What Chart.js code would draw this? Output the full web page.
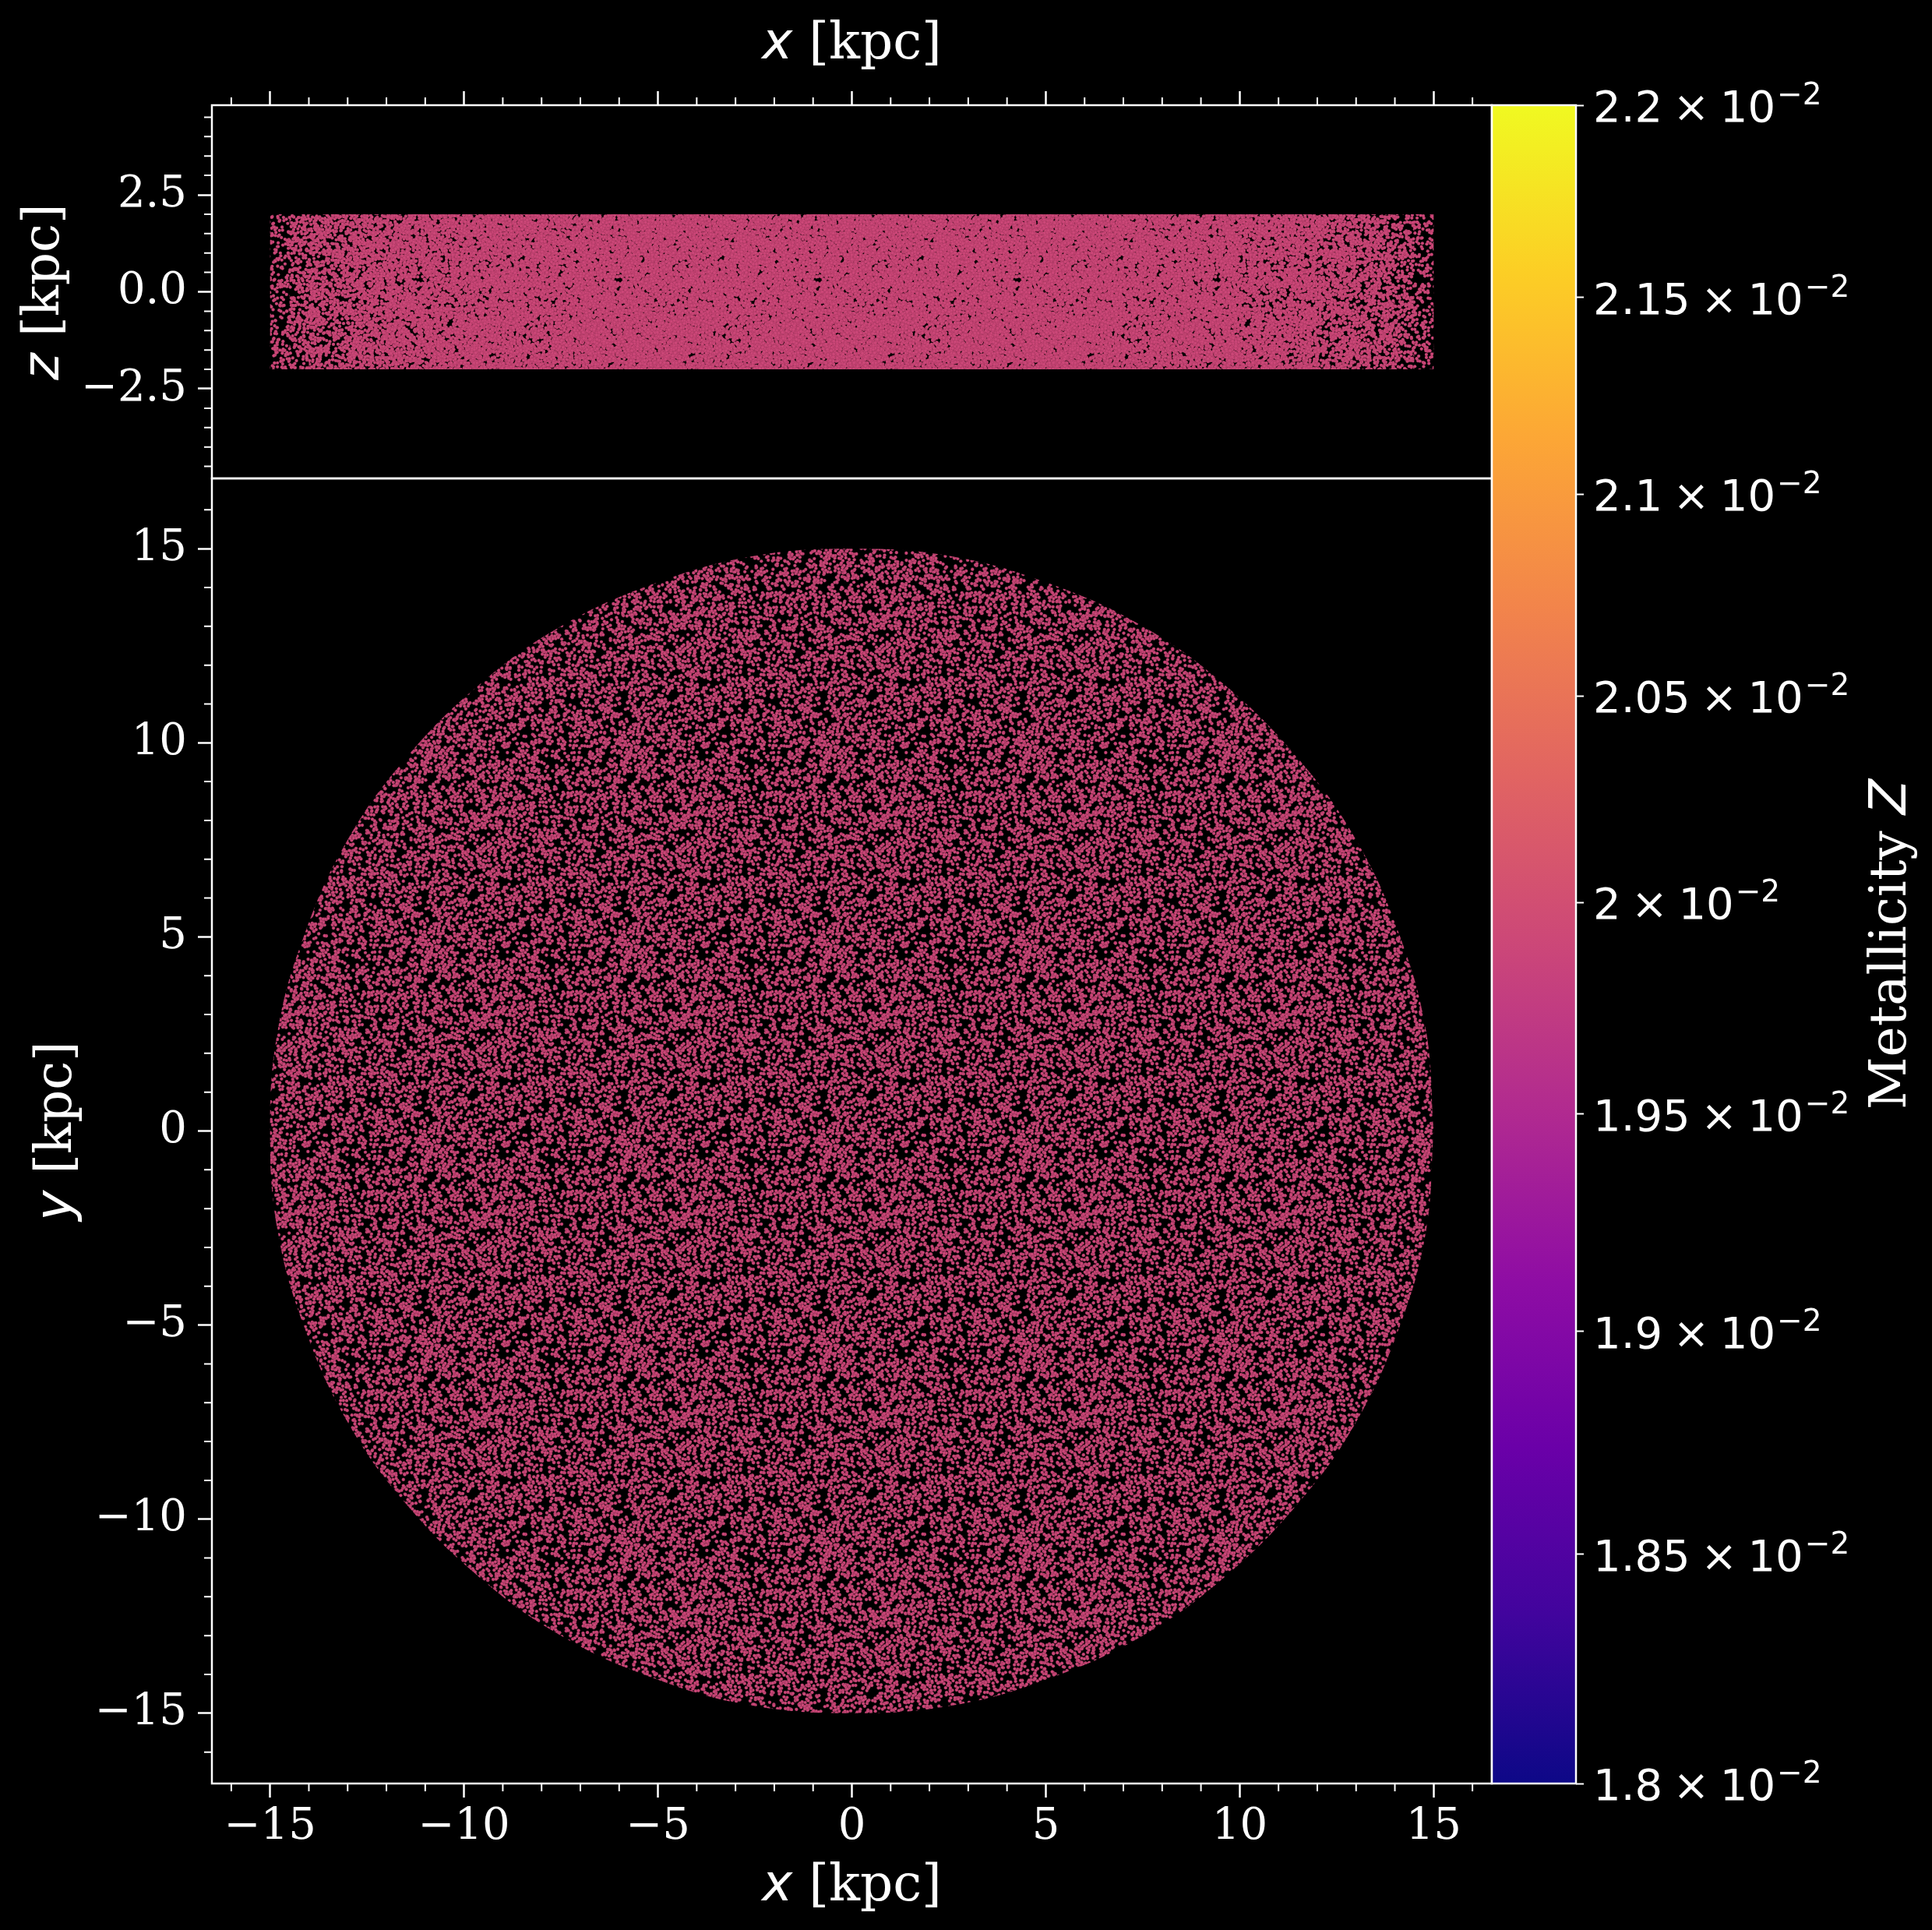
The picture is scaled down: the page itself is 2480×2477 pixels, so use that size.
<!DOCTYPE html>
<html>
<head>
<meta charset="utf-8">
<script src="https://cdn.jsdelivr.net/npm/chart.js@4.4.1/dist/chart.umd.min.js"></script>
<style>
  html, body { margin: 0; padding: 0; background: #000; }
  body { width: 2480px; height: 2477px; position: relative; overflow: hidden; }
  canvas { position: absolute; left: 0; top: 0; }
</style>
</head>
<body>
<canvas id="edgeOn" width="2480" height="2477"></canvas>
<canvas id="faceOn" width="2480" height="2477"></canvas>
<canvas id="colorBar" width="2480" height="2477"></canvas>
<script>
// DATA
const xRange = [-16.5, 16.5];
const yRange = [-16.81, 16.81];
const zRange = [-4.81, 4.81];

const xMajorTicks = [-15, -10, -5, 0, 5, 10, 15];
const xMinorTicks = [-16, -14, -13, -12, -11, -9, -8, -7, -6, -4, -3, -2, -1, 1, 2, 3, 4, 6, 7, 8, 9, 11, 12, 13, 14, 16];
const yMajorTicks = [-15, -10, -5, 0, 5, 10, 15];
const yMinorTicks = [-16, -14, -13, -12, -11, -9, -8, -7, -6, -4, -3, -2, -1, 1, 2, 3, 4, 6, 7, 8, 9, 11, 12, 13, 14, 16];
const zMajorTicks = [-2.5, 0, 2.5];
const zMinorTicks = [-4.5, -4, -3.5, -3, -2, -1.5, -1, -0.5, 0.5, 1, 1.5, 2, 3, 3.5, 4, 4.5];

// outline of the particle disk seen face-on (x, y in kpc)
const diskX = [15, 14.8, 14.1, 13, 11.5, 9.6, 7.5, 5.1, 2.6, 0, -2.6, -5.1, -7.5, -9.6, -11.5, -13, -14.1, -14.8, -15, -14.8, -14.1, -13, -11.5, -9.6, -7.5, -5.1, -2.6, 0, 2.6, 5.1, 7.5, 9.6, 11.5, 13, 14.1, 14.8, 15];
const diskY = [0, 2.6, 5.1, 7.5, 9.6, 11.5, 13, 14.1, 14.8, 15, 14.8, 14.1, 13, 11.5, 9.6, 7.5, 5.1, 2.6, 0, -2.6, -5.1, -7.5, -9.6, -11.5, -13, -14.1, -14.8, -15, -14.8, -14.1, -13, -11.5, -9.6, -7.5, -5.1, -2.6, 0];

// edge-on slab: half widths of the zones of growing column density, and z limits
const slabHalfWidths = [15, 14.5, 14, 13, 12, 10, 7];
const slabZ = [2, -2];

// particle metallicity and the colour bar
const particleMetallicity = [0.0199];
const cbRange = [0.018, 0.022];
const cbTicks = [0.018, 0.0185, 0.019, 0.0195, 0.02, 0.0205, 0.021, 0.0215, 0.022];
const cbMantissas = ['1.8', '1.85', '1.9', '1.95', '2', '2.05', '2.1', '2.15', '2.2'];

// STYLE
const SERIF = '"DejaVu Serif"';
const SANS = '"DejaVu Sans"';
const TICK_SIZE = 56;
const LABEL_SIZE = 66;
const PLASMA = ['#0d0887', '#41049d', '#6a00a8', '#8f0da4', '#b12a90', '#cc4778', '#e16462', '#f2844b', '#fca636', '#fcce25', '#f0f921'];
const slabCoverage = [0.42, 0.35, 0.32, 0.34, 0.32, 0.4, 0.35];
const diskCoverage = 0.5;

function plasmaRgb(f) {
  f = Math.min(1, Math.max(0, f));
  const pos = f * (PLASMA.length - 1);
  const i = Math.min(PLASMA.length - 2, Math.floor(pos));
  const t = pos - i;
  const a = PLASMA[i], b = PLASMA[i + 1];
  const ch = (h, k) => parseInt(h.substr(1 + 2 * k, 2), 16);
  return [0, 1, 2].map(k => Math.round(ch(a, k) + (ch(b, k) - ch(a, k)) * t));
}

const logNorm = v => Math.log(v / cbRange[0]) / Math.log(cbRange[1] / cbRange[0]);
const particleRgb = plasmaRgb(logNorm(particleMetallicity[0]));

// speckled fill that imitates the dense cloud of small markers
function mulberry32(a) {
  return function () {
    a |= 0; a = a + 0x6D2B79F5 | 0;
    let t = Math.imul(a ^ a >>> 15, 1 | a);
    t = t + Math.imul(t ^ t >>> 7, 61 | t) ^ t;
    return ((t ^ t >>> 14) >>> 0) / 4294967296;
  };
}

function speckle(ctx, coverage, seed, rgb, rim) {
  const size = 256, r = 2.1;
  const tile = document.createElement('canvas');
  tile.width = size; tile.height = size;
  const t = tile.getContext('2d');
  const n = Math.round(-Math.log(1 - coverage) * size * size / (Math.PI * r * r));
  const next = mulberry32(seed);
  t.fillStyle = `rgb(${rgb[0]}, ${rgb[1]}, ${rgb[2]})`;
  t.strokeStyle = `rgba(${Math.round(rgb[0] * 0.55)}, ${Math.round(rgb[1] * 0.55)}, ${Math.round(rgb[2] * 0.55)}, ${rim})`;
  t.lineWidth = 0.6;
  for (let i = 0; i < n; i++) {
    const px = next() * size, py = next() * size;
    for (const dx of [-size, 0, size]) {
      for (const dy of [-size, 0, size]) {
        t.beginPath();
        t.arc(px + dx, py + dy, r, 0, Math.PI * 2);
        t.fill();
        if (rim > 0) t.stroke();
      }
    }
  }
  return ctx.createPattern(tile, 'repeat');
}

// HELPERS
const minus = s => String(s).replace('-', '\u2212');

function axis(position, range, major, size, fmt, showLabels, padding) {
  const vertical = position === 'left' || position === 'right';
  return {
    type: 'linear',
    position,
    min: range[0],
    max: range[1],
    afterBuildTicks: s => { s.ticks = major.map(v => ({ value: v })); },
    afterFit: s => { if (vertical) s.width = size; else s.height = size; },
    border: { display: false },
    grid: { drawOnChartArea: false, drawTicks: true, tickLength: 18, tickWidth: 2.5, tickColor: '#fff', color: '#fff' },
    ticks: {
      display: showLabels,
      color: '#fff',
      font: { family: SERIF, size: TICK_SIZE },
      padding,
      autoSkip: false,
      maxRotation: 0,
      minRotation: 0,
      callback: fmt
    }
  };
}

function frame(ctx, a) {
  ctx.save();
  ctx.strokeStyle = '#fff';
  ctx.lineWidth = 2.5;
  ctx.strokeRect(a.left, a.top, a.right - a.left, a.bottom - a.top);
  ctx.restore();
}

function minorTicks(ctx, scale, values, side, a) {
  ctx.save();
  ctx.strokeStyle = '#fff';
  ctx.lineWidth = 2;
  ctx.beginPath();
  values.forEach(v => {
    const p = scale.getPixelForValue(v);
    if (side === 'top') { ctx.moveTo(p, a.top); ctx.lineTo(p, a.top - 10); }
    if (side === 'bottom') { ctx.moveTo(p, a.bottom); ctx.lineTo(p, a.bottom + 10); }
    if (side === 'left') { ctx.moveTo(a.left, p); ctx.lineTo(a.left - 10, p); }
  });
  ctx.stroke();
  ctx.restore();
}

// parts: [text, isMath]; math symbols are sans oblique like mathtext
function mixedText(ctx, parts, x, y, size, rotated) {
  ctx.save();
  ctx.translate(x, y);
  if (rotated) ctx.rotate(-Math.PI / 2);
  ctx.fillStyle = '#fff';
  ctx.textBaseline = 'alphabetic';
  ctx.textAlign = 'left';
  const fonts = parts.map(([, math]) => math ? 'oblique ' + size + 'px ' + SANS : size + 'px ' + SERIF);
  let w = 0;
  parts.forEach(([text], i) => { ctx.font = fonts[i]; w += ctx.measureText(text).width; });
  let cx = -w / 2;
  parts.forEach(([text], i) => {
    ctx.font = fonts[i];
    ctx.fillText(text, cx, 0);
    cx += ctx.measureText(text).width;
  });
  ctx.restore();
}

const baseOptions = {
  responsive: false,
  animation: false,
  events: [],
  plugins: { legend: { display: false }, tooltip: { enabled: false } }
};

// EDGE-ON PANEL (x, z)
const edgeCanvas = document.getElementById('edgeOn');
const edgeCtx = edgeCanvas.getContext('2d');
const slabDatasets = slabHalfWidths.map((w, i) => ({
  data: [
    { x: -w, y: slabZ[0] }, { x: w, y: slabZ[0] },
    { x: w, y: slabZ[1] }, { x: -w, y: slabZ[1] },
    { x: -w, y: slabZ[0] }
  ],
  showLine: true,
  fill: 'shape',
  backgroundColor: speckle(edgeCtx, slabCoverage[i], 11 + i * 97, particleRgb, 0.25),
  borderColor: 'transparent',
  borderWidth: 0,
  pointRadius: 0
}));

new Chart(edgeCanvas, {
  type: 'scatter',
  data: { datasets: slabDatasets },
  options: {
    ...baseOptions,
    layout: { padding: { left: 0, top: 0, right: 565, bottom: 1863 } },
    scales: {
      x: axis('top', xRange, xMajorTicks, 135, v => minus(v), false, 6),
      y: axis('left', zRange, zMajorTicks, 272, v => minus(v.toFixed(1)), true, 14)
    }
  },
  plugins: [{
    id: 'edgeDecor',
    afterDraw(chart) {
      const { ctx, chartArea: a, scales } = chart;
      minorTicks(ctx, scales.x, xMinorTicks, 'top', a);
      minorTicks(ctx, scales.y, zMinorTicks, 'left', a);
      frame(ctx, a);
      mixedText(ctx, [['x', true], [' [kpc]', false]], (a.left + a.right) / 2, 75, LABEL_SIZE, false);
      mixedText(ctx, [['z', true], [' [kpc]', false]], 75, (a.top + a.bottom) / 2, LABEL_SIZE, true);
    }
  }]
});

// FACE-ON PANEL (x, y)
const faceCanvas = document.getElementById('faceOn');
const faceCtx = faceCanvas.getContext('2d');

new Chart(faceCanvas, {
  type: 'scatter',
  data: {
    datasets: [{
      data: diskX.map((x, i) => ({ x, y: diskY[i] })),
      showLine: true,
      fill: 'shape',
      tension: 0.4,
      backgroundColor: speckle(faceCtx, diskCoverage, 4242, particleRgb, 0.5),
      borderColor: 'transparent',
      borderWidth: 0,
      pointRadius: 0
    }]
  },
  options: {
    ...baseOptions,
    layout: { padding: { left: 0, top: 614, right: 565, bottom: 0 } },
    scales: {
      x: axis('bottom', xRange, xMajorTicks, 188, v => minus(v), true, 5),
      y: axis('left', yRange, yMajorTicks, 272, v => minus(v), true, 14)
    }
  },
  plugins: [{
    id: 'faceDecor',
    afterDraw(chart) {
      const { ctx, chartArea: a, scales } = chart;
      minorTicks(ctx, scales.x, xMinorTicks, 'bottom', a);
      minorTicks(ctx, scales.y, yMinorTicks, 'left', a);
      frame(ctx, a);
      mixedText(ctx, [['x', true], [' [kpc]', false]], (a.left + a.right) / 2, 2439, LABEL_SIZE, false);
      mixedText(ctx, [['y', true], [' [kpc]', false]], 91, (a.top + a.bottom) / 2, LABEL_SIZE, true);
    }
  }]
});

// COLOUR BAR
new Chart(document.getElementById('colorBar'), {
  type: 'scatter',
  data: { datasets: [] },
  options: {
    ...baseOptions,
    layout: { padding: { left: 1915, top: 135, right: 0, bottom: 188 } },
    scales: {
      x: { type: 'linear', display: false, min: 0, max: 1 },
      y: {
        type: 'logarithmic',
        position: 'right',
        min: cbRange[0],
        max: cbRange[1],
        afterBuildTicks: s => { s.ticks = cbTicks.map(v => ({ value: v })); },
        afterFit: s => { s.width = 457; },
        border: { display: false },
        grid: { drawOnChartArea: false, drawTicks: true, tickLength: 10, tickWidth: 2, tickColor: '#fff', color: '#fff' },
        ticks: { display: false, autoSkip: false }
      }
    }
  },
  plugins: [{
    id: 'barDecor',
    afterDraw(chart) {
      const { ctx, chartArea: a, scales } = chart;
      const g = ctx.createLinearGradient(0, a.bottom, 0, a.top);
      PLASMA.forEach((c, i) => g.addColorStop(i / (PLASMA.length - 1), c));
      ctx.save();
      ctx.fillStyle = g;
      ctx.fillRect(a.left, a.top, a.right - a.left, a.bottom - a.top);
      ctx.restore();
      frame(ctx, a);

      // tick labels written as mantissa x 10^-2 (mathtext style, sans)
      ctx.save();
      ctx.fillStyle = '#fff';
      ctx.textBaseline = 'alphabetic';
      ctx.textAlign = 'left';
      const big = TICK_SIZE + 'px ' + SANS;
      const small = Math.round(TICK_SIZE * 0.7) + 'px ' + SANS;
      cbTicks.forEach((v, i) => {
        const y = scales.y.getPixelForValue(v) + 21;
        let x = a.right + 22;
        ctx.font = big;
        ctx.fillText(cbMantissas[i], x, y);
        x += ctx.measureText(cbMantissas[i]).width + TICK_SIZE * 0.24;
        ctx.fillText('\u00d7', x, y);
        x += ctx.measureText('\u00d7').width + TICK_SIZE * 0.24;
        ctx.fillText('10', x, y);
        x += ctx.measureText('10').width + 2;
        ctx.font = small;
        ctx.fillText('\u22122', x, y - 22);
      });
      ctx.restore();

      mixedText(ctx, [['Metallicity ', false], ['Z', true]], 2446, (a.top + a.bottom) / 2, LABEL_SIZE, true);
    }
  }]
});
</script>
</body>
</html>
